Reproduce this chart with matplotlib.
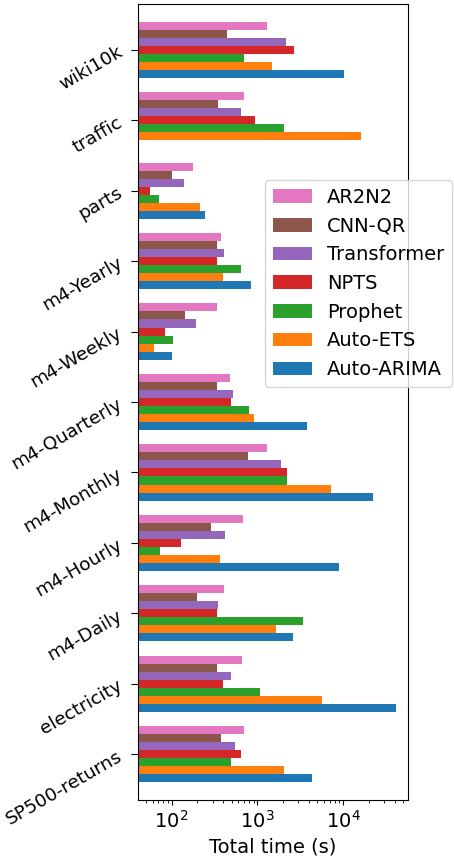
import numpy as np
import matplotlib
matplotlib.use("Agg")
import matplotlib.pyplot as plt

# datasets, bottom to top
datasets = ["SP500-returns", "electricity", "m4-Daily", "m4-Hourly", "m4-Monthly",
            "m4-Quarterly", "m4-Weekly", "m4-Yearly", "parts", "traffic", "wiki10k"]

# total time (s) per method, same order as datasets (nan = no result)
auto_arima = [4340, 41500, 2570, 8980, 22300, 3790, 102, 851, 244, np.nan, 10100]
auto_ets = [2020, 5630, 1640, 368, 7250, 906, 62.5, 393, 215, 16100, 1470]
prophet = [492, 1075, 3370, 73.5, 2230, 806, 104, 644, 72, 2020, 698]
npts = [644, 393, 337, 130, 2190, 486, 84, 340, 55.7, 948, 2670]
transformer = [552, 495, 343, 414, 1860, 519, 193, 410, 138, 644, 2170]
cnn_qr = [379, 340, 196, 286, 778, 340, 143, 340, 101, 343, 441]
ar2n2 = [690, 655, 410, 685, 1300, 482, 340, 379, 176, 698, 1300]

methods = ["Auto-ARIMA", "Auto-ETS", "Prophet", "NPTS", "Transformer", "CNN-QR", "AR2N2"]
series = [auto_arima, auto_ets, prophet, npts, transformer, cnn_qr, ar2n2]

fig = plt.figure(figsize=(4.54, 8.6), dpi=100)
ax = fig.add_axes([0.304, 0.0698, 0.595, 0.9255])

n = len(methods)
w = 0.8 / n
y = np.arange(len(datasets))
for i, (name, vals) in enumerate(zip(methods, series)):
    ax.barh(y - 0.4 + w * (i + 0.5), vals, height=w, color="C%d" % i, label=name)

ax.set_xscale("log")
ax.set_xlim(40.6, 5.7e4)
ax.set_ylim(-0.65, len(datasets) - 0.35)
ax.set_yticks(y)
ax.set_yticklabels(datasets, rotation=30, fontsize=13.3)
ax.tick_params(axis="x", labelsize=14)
ax.tick_params(axis="y", length=5, pad=4)
ax.set_xlabel("Total time (s)", fontsize=14)

h, l = ax.get_legend_handles_labels()
ax.legend(h[::-1], l[::-1], loc="upper left", fontsize=14,
          bbox_to_anchor=(265 / 454, 1 - 180 / 860), bbox_transform=fig.transFigure,
          borderaxespad=0)

fig.savefig("out.png")
